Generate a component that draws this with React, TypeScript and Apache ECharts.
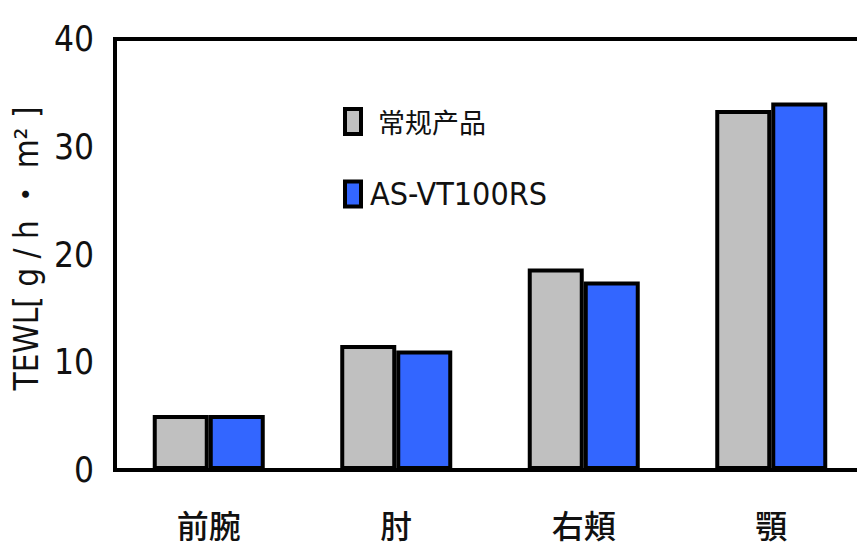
import React, { useEffect, useRef } from "react";
import * as echarts from "echarts";

const categories = ["前腕", "肘", "右頬", "顎"];
const seriesNames = ["常规产品", "AS-VT100RS"];
const conventional = [5.1, 11.6, 18.7, 33.4];
const asvt = [5.1, 11.1, 17.5, 34.1];
const yTicks = { min: 0, max: 40, interval: 10 };

export default function App() {
  const ref = useRef<HTMLDivElement>(null);
  useEffect(() => {
    if (!ref.current) return;
    const chart = echarts.init(ref.current, null, { renderer: "svg" });
    const numFont = "'DejaVu Sans Condensed', 'Liberation Sans Narrow', sans-serif";
    const cjkFont = "'Noto Sans CJK JP', 'Noto Sans CJK SC', sans-serif";
    chart.setOption({
      animation: false,
      backgroundColor: "#ffffff",
      grid: {
        left: 115,
        top: 39,
        width: 764,
        bottom: 85,
        show: true,
        borderColor: "#000",
        borderWidth: 4,
        containLabel: false,
      },
      legend: {
        orient: "vertical",
        left: 338,
        top: 102,
        icon: "rect",
        itemWidth: 16,
        itemHeight: 25,
        itemGap: 42,
        itemStyle: { borderColor: "#000", borderWidth: 4 },
        data: seriesNames,
        formatter: (name: string) =>
          name === seriesNames[1] ? `{b|${name}}` : `{a|${name}}`,
        textStyle: {
          rich: {
            a: {
              fontFamily: "'Noto Sans CJK SC', sans-serif",
              fontSize: 27,
              color: "#111",
              padding: [0, 0, 0, 12],
            },
            b: {
              fontFamily: numFont,
              fontSize: 32,
              color: "#111",
              padding: [0, 0, 0, 4],
            },
          },
        },
      },
      xAxis: {
        type: "category",
        data: categories,
        axisLine: { show: true, lineStyle: { color: "#000", width: 4 } },
        axisTick: { show: false },
        axisLabel: {
          margin: 38,
          fontFamily: cjkFont,
          fontSize: 32,
          fontWeight: 500,
          color: "#111",
        },
      },
      yAxis: {
        type: "value",
        min: yTicks.min,
        max: yTicks.max,
        interval: yTicks.interval,
        name: "TEWL[ g / h ・ m² ]",
        nameLocation: "middle",
        nameGap: 68,
        nameRotate: 90,
        nameTextStyle: {
          fontFamily: numFont + ", " + cjkFont,
          fontSize: 33,
          color: "#111",
          padding: [0, 0, 0, 12],
        },
        axisLine: { show: true, lineStyle: { color: "#000", width: 4 } },
        axisTick: { show: false },
        splitLine: { show: false },
        axisLabel: {
          margin: 21,
          fontFamily: numFont,
          fontSize: 35,
          color: "#111",
        },
      },
      series: [
        {
          name: seriesNames[0],
          type: "bar",
          data: conventional,
          barWidth: 56,
          barGap: "0%",
          itemStyle: { color: "#c0c0c0", borderColor: "#000", borderWidth: 4 },
        },
        {
          name: seriesNames[1],
          type: "bar",
          data: asvt,
          barWidth: 56,
          barGap: "0%",
          itemStyle: { color: "#3366ff", borderColor: "#000", borderWidth: 4 },
        },
      ],
    });
    return () => chart.dispose();
  }, []);
  return <div ref={ref} style={{ width: 865, height: 555, margin: -8 }} />;
}
